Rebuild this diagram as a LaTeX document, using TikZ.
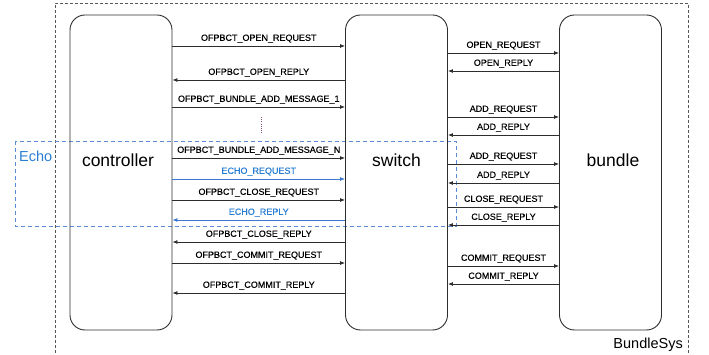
\documentclass[tikz,border=0pt]{standalone}
\usepackage{fontspec}
\setmainfont{Liberation Sans}
\newfontfamily\lblf[FakeBold=0.35]{Liberation Sans}
\usetikzlibrary{arrows.meta}
\definecolor{ln}{RGB}{45,45,45}
\definecolor{eb}{RGB}{60,120,205}
\definecolor{et}{RGB}{40,125,210}
\definecolor{dotc}{RGB}{140,90,130}
\begin{document}
\begin{tikzpicture}[x=1pt,y=-1pt,
  blk/.style={draw=ln,line width=0.9pt,rounded corners=15pt,minimum width=102pt,minimum height=315pt,inner sep=0pt},
  bigtxt/.style={font=\fontsize{17.5}{20}\selectfont,inner sep=0pt},
  msg/.style={draw=ln,line width=0.8pt,-{Latex[length=5pt,width=4pt]}},
  emsg/.style={draw=eb,line width=0.8pt,-{Latex[length=5pt,width=4pt]}},
  lbl/.style={font=\lblf\fontsize{9}{10}\selectfont,inner sep=0pt,above=3pt,text=black},
  elbl/.style={font=\lblf\fontsize{9}{10}\selectfont,inner sep=0pt,above=3pt,text=et}]
\useasboundingbox (0,0) rectangle (709,355);
% outer BundleSys box
\draw[ln!80,line width=0.8pt,dash pattern=on 3pt off 2pt] (55,358) -- (55,3) -- (688,3) -- (688,358);
\node[font=\fontsize{14.5}{16}\selectfont,anchor=east,inner sep=0pt] (sys) at (683,345) {BundleSys};
% echo box
\draw[eb!85,line width=0.8pt,dash pattern=on 4pt off 3pt] (15,141) rectangle (456,226);
\node[font=\fontsize{14.5}{16}\selectfont,text=et,anchor=west,inner sep=0pt] (echo) at (19,156) {Echo};
% blocks
\node[blk] (cb) at (121,172.5) {};
\node[blk] (sb) at (396.5,172.5) {};
\node[blk] (bb) at (610.5,172.5) {};
\node[bigtxt] (ctrl) at (118,160) {controller};
\node[bigtxt] (sw) at (396.5,160) {switch};
\node[bigtxt] (bd) at (613,160) {bundle};
% controller <-> switch
\draw[msg] (cb.east |- 0,46) -- node[lbl]{OFPBCT\_OPEN\_REQUEST} (sb.west |- 0,46);
\draw[msg] (sb.west |- 0,80) -- node[lbl]{OFPBCT\_OPEN\_REPLY} (cb.east |- 0,80);
\draw[msg] (cb.east |- 0,107) -- node[lbl]{OFPBCT\_BUNDLE\_ADD\_MESSAGE\_1} (sb.west |- 0,107);
\draw[msg] (cb.east |- 0,158) -- node[lbl]{OFPBCT\_BUNDLE\_ADD\_MESSAGE\_N} (sb.west |- 0,158);
\draw[emsg] (cb.east |- 0,179) -- node[elbl]{ECHO\_REQUEST} (sb.west |- 0,179);
\draw[msg] (cb.east |- 0,200) -- node[lbl]{OFPBCT\_CLOSE\_REQUEST} (sb.west |- 0,200);
\draw[emsg] (sb.west |- 0,220) -- node[elbl]{ECHO\_REPLY} (cb.east |- 0,220);
\draw[msg] (sb.west |- 0,242) -- node[lbl]{OFPBCT\_CLOSE\_REPLY} (cb.east |- 0,242);
\draw[msg] (cb.east |- 0,263) -- node[lbl]{OFPBCT\_COMMIT\_REQUEST} (sb.west |- 0,263);
\draw[msg] (sb.west |- 0,293) -- node[lbl]{OFPBCT\_COMMIT\_REPLY} (cb.east |- 0,293);
\coordinate (d1) at (261,117);
\coordinate (d2) at (261,133);
\draw[dotc,line width=0.9pt,dash pattern=on 1pt off 1.2pt] (d1) -- (d2);
% switch <-> bundle
\draw[msg] (sb.east |- 0,53) -- node[lbl]{OPEN\_REQUEST} (bb.west |- 0,53);
\draw[msg] (bb.west |- 0,71) -- node[lbl]{OPEN\_REPLY} (sb.east |- 0,71);
\draw[msg] (sb.east |- 0,117) -- node[lbl]{ADD\_REQUEST} (bb.west |- 0,117);
\draw[msg] (bb.west |- 0,135) -- node[lbl]{ADD\_REPLY} (sb.east |- 0,135);
\draw[msg] (sb.east |- 0,164) -- node[lbl]{ADD\_REQUEST} (bb.west |- 0,164);
\draw[msg] (bb.west |- 0,183) -- node[lbl]{ADD\_REPLY} (sb.east |- 0,183);
\draw[msg] (sb.east |- 0,207) -- node[lbl]{CLOSE\_REQUEST} (bb.west |- 0,207);
\draw[msg] (bb.west |- 0,225) -- node[lbl]{CLOSE\_REPLY} (sb.east |- 0,225);
\draw[msg] (sb.east |- 0,266) -- node[lbl]{COMMIT\_REQUEST} (bb.west |- 0,266);
\draw[msg] (bb.west |- 0,284) -- node[lbl]{COMMIT\_REPLY} (sb.east |- 0,284);
\end{tikzpicture}
\end{document}
